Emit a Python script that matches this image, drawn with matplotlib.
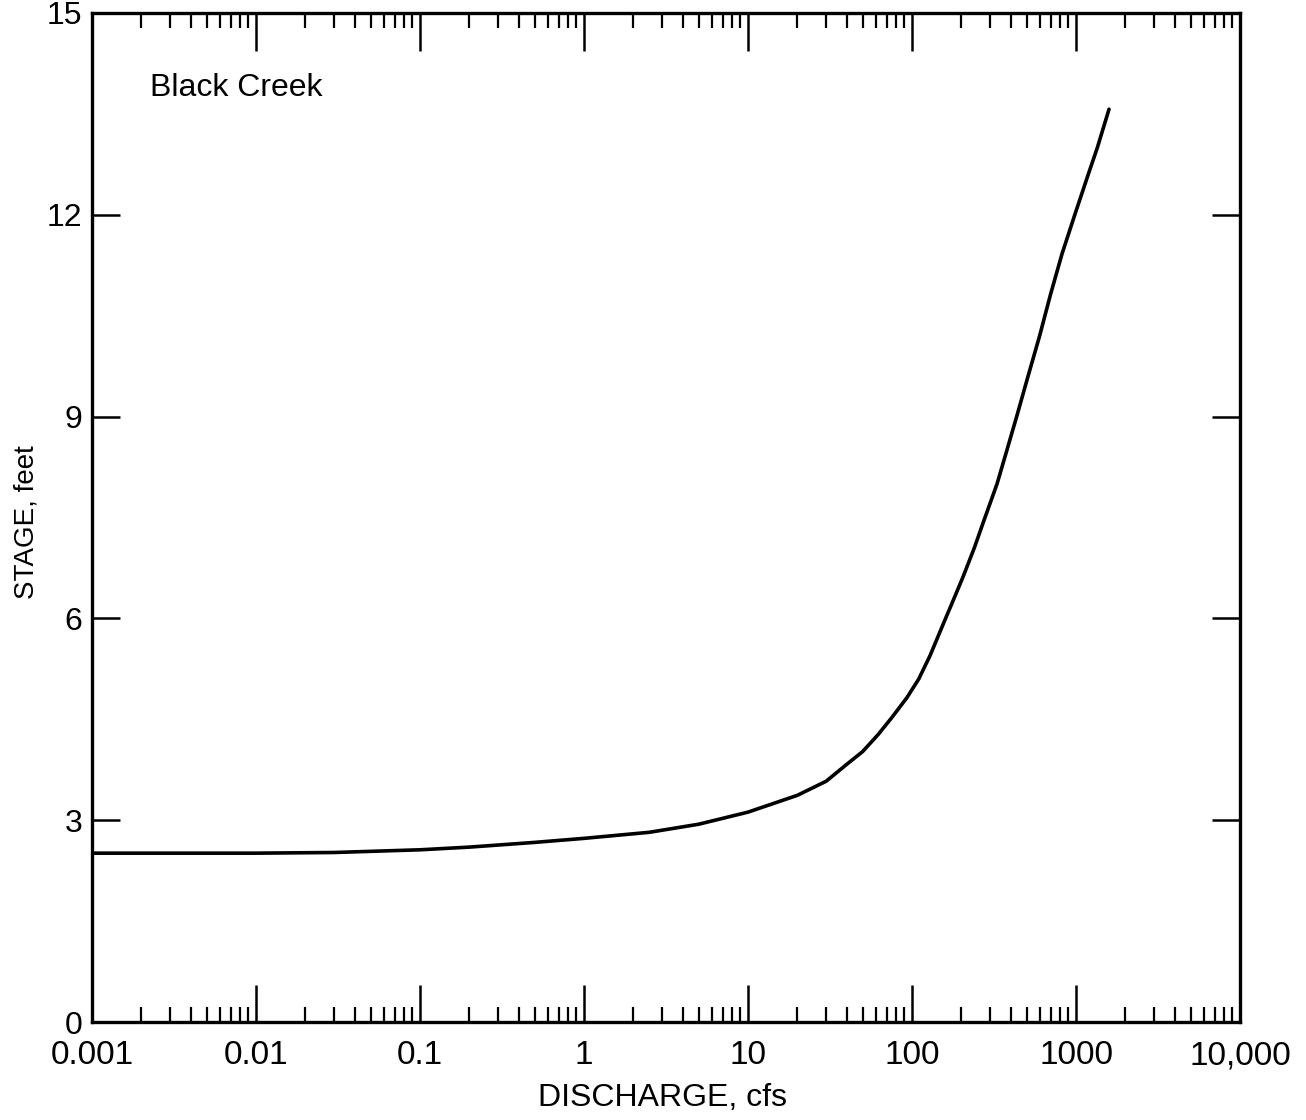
import matplotlib
matplotlib.use("Agg")
import matplotlib.pyplot as plt
from matplotlib.ticker import FixedLocator, FixedFormatter, LogLocator, NullLocator

plt.rcParams['font.family'] = ['Liberation Sans', 'DejaVu Sans']

# Rating curve
discharge_cfs = [0.001, 0.01, 0.03, 0.1, 0.2, 0.5, 1, 2.5, 5, 10, 20, 30, 39.5,
                 50, 62, 75, 93, 110, 129, 159, 175, 205, 240, 275, 330, 379,
                 437, 510, 600, 700, 822, 986, 1180, 1350, 1590]
stage_ft = [2.51, 2.51, 2.52, 2.56, 2.60, 2.67, 2.73, 2.82, 2.94, 3.12, 3.37,
            3.58, 3.82, 4.02, 4.27, 4.52, 4.82, 5.10, 5.45, 5.98, 6.22, 6.62,
            7.05, 7.46, 8.0, 8.5, 9.02, 9.6, 10.2, 10.82, 11.42, 12.01, 12.58,
            13.0, 13.57]

x_ticks = [0.001, 0.01, 0.1, 1, 10, 100, 1000, 10000]
x_tick_labels = ['0.001', '0.01', '0.1', '1', '10', '100', '1000', '10,000']
y_ticks = [0, 3, 6, 9, 12, 15]
y_tick_labels = ['0', '3', '6', '9', '12', '15']

W, H = 1306, 1120
fig = plt.figure(figsize=(W / 100, H / 100), dpi=100)
L, R, T, B = 92, 1240, 13, 1022
ax = fig.add_axes([L / W, 1 - B / H, (R - L) / W, (B - T) / H])

ax.plot(discharge_cfs, stage_ft, color='black', lw=2.6,
        solid_capstyle='round', solid_joinstyle='round')

ax.set_xscale('log')
ax.set_xlim(0.001, 10000)
ax.set_ylim(0, 15)

ax.xaxis.set_major_locator(FixedLocator(x_ticks))
ax.xaxis.set_major_formatter(FixedFormatter(x_tick_labels))
ax.xaxis.set_minor_locator(LogLocator(base=10, subs=range(2, 10), numticks=100))
ax.yaxis.set_major_locator(FixedLocator(y_ticks))
ax.yaxis.set_major_formatter(FixedFormatter(y_tick_labels))
ax.yaxis.set_minor_locator(NullLocator())

ax.tick_params(axis='x', which='major', direction='in', top=True, bottom=True,
               length=27, width=1.8, labelsize=24, pad=13)
ax.tick_params(axis='x', which='minor', direction='in', top=True, bottom=True,
               length=11, width=1.6)
ax.tick_params(axis='y', which='major', direction='in', left=True, right=True,
               length=20, width=1.8, labelsize=23, pad=7)

for s in ax.spines.values():
    s.set_linewidth(2.4)

ax.text(0.0505, 0.9257, 'Black Creek', transform=ax.transAxes,
        fontsize=23, ha='left', va='center')

fig.text(662 / W, 1 - 1098 / H, 'DISCHARGE, cfs', fontsize=23,
         ha='center', va='center')
fig.text(27 / W, 1 - 522 / H, 'STAGE, feet', fontsize=20, rotation=90,
         ha='center', va='center')

fig.savefig('out.png', dpi=100, facecolor='white')
